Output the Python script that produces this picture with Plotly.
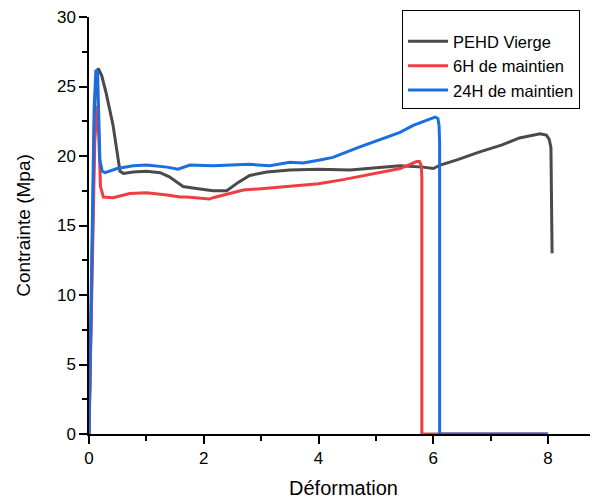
import plotly.graph_objects as go

# PEHD Vierge
x_vierge = [0, 0.03, 0.07, 0.1, 0.13, 0.16, 0.22, 0.3, 0.42, 0.48, 0.54, 0.6, 0.77, 1.0, 1.24, 1.4, 1.53, 1.64, 1.81, 2.1, 2.16, 2.4, 2.6, 2.8, 3.1, 3.5, 4.0, 4.55, 5.07, 5.42, 5.82, 6.0, 6.12, 6.4, 6.81, 7.2, 7.5, 7.86, 7.97, 8.02, 8.05, 8.06, 8.07]
y_vierge = [0, 8, 18, 23.5, 25.8, 26.3, 25.8, 24.5, 22.2, 20.5, 18.9, 18.75, 18.85, 18.9, 18.8, 18.5, 18.1, 17.8, 17.7, 17.55, 17.5, 17.5, 18.1, 18.6, 18.85, 19.0, 19.05, 19.0, 19.15, 19.3, 19.2, 19.1, 19.35, 19.7, 20.3, 20.8, 21.3, 21.6, 21.5, 21.2, 20.6, 17.0, 13.0]

# 6H de maintien
x_6h = [0, 0.03, 0.07, 0.1, 0.14, 0.17, 0.2, 0.25, 0.42, 0.71, 1.0, 1.36, 1.59, 1.7, 2.1, 2.16, 2.4, 2.69, 3.0, 3.5, 4.0, 4.43, 5.07, 5.42, 5.71, 5.76, 5.79, 5.8, 5.8, 8.0]
y_6h = [0, 7, 15, 21, 23.6, 21.5, 17.8, 17.05, 17.0, 17.3, 17.35, 17.2, 17.05, 17.05, 16.9, 17.0, 17.25, 17.55, 17.65, 17.8, 18.0, 18.3, 18.8, 19.1, 19.6, 19.6, 19.3, 18.5, 0, 0]

# 24H de maintien
x_24h = [0, 0.03, 0.06, 0.09, 0.12, 0.15, 0.19, 0.23, 0.28, 0.49, 0.77, 1.0, 1.36, 1.55, 1.76, 2.16, 2.8, 3.15, 3.5, 3.73, 4.0, 4.25, 4.72, 5.07, 5.42, 5.65, 6.03, 6.08, 6.1, 6.11, 6.11, 8.0]
y_24h = [0, 9, 18, 23.5, 26.2, 26.0, 19.7, 18.9, 18.8, 19.1, 19.3, 19.35, 19.2, 19.05, 19.35, 19.3, 19.4, 19.3, 19.55, 19.5, 19.7, 19.9, 20.65, 21.15, 21.7, 22.2, 22.8, 22.7, 22.2, 21.0, 0, 0]

series = [
    ("PEHD Vierge", x_vierge, y_vierge, "#4a4a4a"),
    ("6H de maintien", x_6h, y_6h, "#f03c42"),
    ("24H de maintien", x_24h, y_24h, "#1a6ee0"),
]

fig = go.Figure()
for name, xs, ys, col in series:
    fig.add_trace(go.Scatter(x=xs, y=ys, mode="lines", name=name,
                             line=dict(color=col, width=3)))

font_family = "Liberation Sans, Arial, sans-serif"
fig.update_layout(
    width=598, height=502,
    margin=dict(l=81, r=8, t=9, b=76, autoexpand=False),
    plot_bgcolor="white", paper_bgcolor="white",
    font=dict(family=font_family, size=17, color="black"),
    showlegend=True,
    legend=dict(
        x=0.615, y=1.0168, xanchor="left", yanchor="top",
        bordercolor="black", borderwidth=1, bgcolor="white",
        font=dict(size=16.5), title=dict(text=" ", font=dict(size=10)),
        tracegroupgap=0, itemwidth=40,
    ),
    xaxis=dict(
        range=[0, 8.87], showgrid=False, zeroline=False, automargin=False,
        showline=True, linecolor="black", linewidth=1.5,
        ticks="outside", ticklen=8, tickwidth=1.5, tickcolor="black",
        tickvals=[0, 2, 4, 6, 8], ticklabeloverflow="allow",
        minor=dict(ticks="outside", ticklen=5, tickwidth=1.5, tickcolor="black", dtick=1),
        title=dict(text="Déformation", font=dict(size=20), standoff=14),
    ),
    yaxis=dict(
        range=[0, 30], showgrid=False, zeroline=False, automargin=False,
        showline=True, linecolor="black", linewidth=1.5,
        ticks="outside", ticklen=8, tickwidth=1.5, tickcolor="black",
        tickvals=[0, 5, 10, 15, 20, 25, 30], ticklabeloverflow="allow",
        minor=dict(ticks="outside", ticklen=5, tickwidth=1.5, tickcolor="black", dtick=2.5),
        title=dict(text="Contrainte (Mpa)", font=dict(size=19), standoff=21),
    ),
)

fig.write_html("out.html")
